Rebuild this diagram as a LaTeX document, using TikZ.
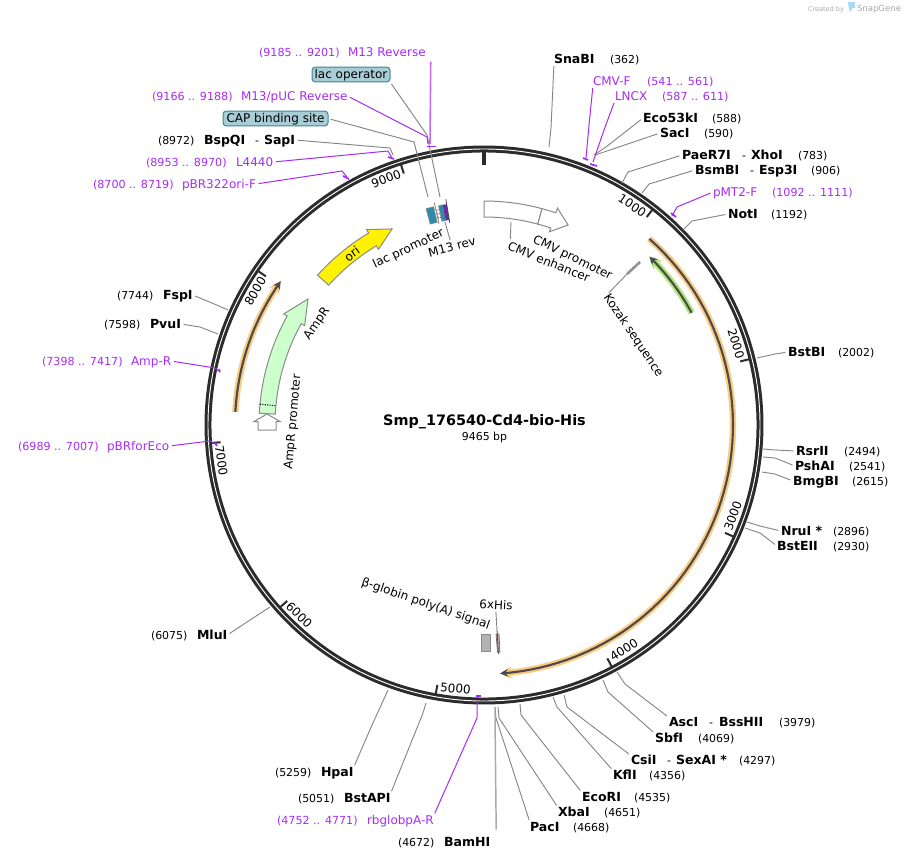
\documentclass[tikz,border=0pt]{standalone}
\usepackage{fontspec}
\setmainfont{DejaVu Sans}
\usepackage{xcolor}
\usetikzlibrary{arrows.meta,calc}
\definecolor{RingDark}{HTML}{2B2B2B}
\definecolor{LineGray}{HTML}{858585}
\definecolor{EdgeGray}{HTML}{8A8A8A}
\definecolor{OligoPurple}{HTML}{A62BF5}
\definecolor{BoxFill}{HTML}{A9CDD6}
\definecolor{BoxEdge}{HTML}{3F8497}
\definecolor{AmpGreen}{HTML}{CCFFCC}
\definecolor{HaloOrange}{HTML}{FCCB82}
\definecolor{HaloGreen}{HTML}{ADE678}
\definecolor{LacTeal}{HTML}{2F8BA8}
\definecolor{LacPurple}{HTML}{6A2CA0}
\definecolor{LogoGray}{HTML}{A8A8A8}
\definecolor{LogoBlue}{HTML}{A5DCF3}

\begin{document}
\begin{tikzpicture}[
      x=0.75pt, y=-0.75pt,
      every node/.style={inner sep=0pt, outer sep=0pt, text height=6.6pt, text depth=0pt},
      site/.style={anchor=west, font=\fontsize{9.4}{11}\selectfont\bfseries},
      sitenum/.style={anchor=west, font=\fontsize{8.2}{10}\selectfont},
      oligo/.style={anchor=west, text=OligoPurple, font=\fontsize{9}{11}\selectfont},
      oligonum/.style={anchor=west, text=OligoPurple, font=\fontsize{8.35}{10}\selectfont},
      flabel/.style={font=\fontsize{9}{11}\selectfont},
      fbox/.style={draw=BoxEdge, fill=BoxFill, rounded corners=2.5pt, line width=0.75pt,
          minimum height=11.2pt, font=\fontsize{9}{11}\selectfont},
      sline/.style={draw=LineGray, line width=0.7pt, shorten <=2pt},
      oline/.style={draw=OligoPurple, line width=0.75pt, shorten <=2pt},
      otick/.style={draw=OligoPurple, line width=1.3pt},
      feat/.style={draw=EdgeGray, line width=0.75pt},
      halo/.style={line width=4.8pt, -{Stealth[length=9pt,width=9pt]}},
      inarc/.style={draw=RingDark!85, line width=1.6pt, -{Stealth[length=6pt,width=6pt]}},
    ]
    \useasboundingbox (0,0) rectangle (905,860);

    \begin{scope}[shift={(484,425)}]
      % backbone
      \coordinate (c) at (0,0);
      \draw[RingDark, line width=5.2pt] (c) circle[radius=276];
      \draw[white, line width=0.7pt] (c) circle[radius=276];
      \draw[RingDark, line width=2.4pt] (-90:273) -- (-90:260);
      \foreach \p/\r in {1000/-34,2000/-73,3000/70,4000/32,5000/-6,6000/-44,7000/-82,8000/60,9000/21}{
        \pgfmathsetmacro\ang{\p/9465*360-90}
        \draw[RingDark, line width=1.5pt] (\ang:273) -- (\ang:264);
        \node[flabel, rotate=\r] (tick\p) at (\ang-4:265) {\p};
      }

      % long features
      \draw[HaloOrange, halo] plot[domain=-48.4:86.3, samples=60] (\x:249);
      \draw[inarc] plot[domain=-48.4:86.3, samples=60] (\x:249);
      \draw[HaloOrange, halo] plot[domain=183:215.3, samples=30] (\x:249);
      \draw[inarc] plot[domain=183:215.3, samples=30] (\x:249);
      \draw[HaloGreen, halo] plot[domain=-28.4:-45.5, samples=20] (\x:236);
      \draw[inarc] plot[domain=-28.4:-45.5, samples=20] (\x:236);

      % AmpR
      \draw[feat, fill=AmpGreen] plot[domain=183:209, samples=30] (\x:225) -- (209:229) -- (215.6:216.5)
        -- (209:205) -- plot[domain=209:183, samples=30] (\x:209) -- cycle;
      \draw[densely dotted, line width=0.8pt] (185.3:225) -- (185.3:209);

      % ori
      \draw[feat, fill=yellow] plot[domain=222:239, samples=20] (\x:224) -- (239:228) -- (244.9:216.5)
        -- (239:205) -- plot[domain=239:222, samples=20] (\x:209) -- cycle;

      % CMV enhancer, CMV promoter
      \draw[feat, fill=white] plot[domain=-90:-75, samples=20] (\x:224) -- (-75:208)
        -- plot[domain=-75:-90, samples=20] (\x:208) -- cycle;
      \draw[feat, fill=white] plot[domain=-75:-71.3, samples=8] (\x:224) -- (-71.3:229) -- (-67.2:217)
        -- (-71.3:204) -- plot[domain=-71.3:-75, samples=8] (\x:208) -- cycle;

      % lac region
      \fill[LacTeal, draw=EdgeGray, line width=0.4pt] plot[domain=255:257, samples=4] (\x:224)
        -- plot[domain=257:255, samples=4] (\x:208) -- cycle;
      \draw[black, densely dotted, line width=0.7pt] (257.5:216) -- (258.5:216);
      \draw[black, densely dotted, line width=0.7pt] (257.5:212) -- (258.5:212);
      \draw[black, densely dotted, line width=0.7pt] (257.5:220) -- (258.5:220);
      \fill[LacTeal, draw=EdgeGray, line width=0.4pt] plot[domain=258.3:259.4, samples=4] (\x:224)
        -- plot[domain=259.4:258.3, samples=4] (\x:208) -- cycle;
      \fill[LacPurple] plot[domain=259.4:260.4, samples=4] (\x:224)
        -- plot[domain=260.4:259.4, samples=4] (\x:208) -- cycle;
      \draw[LineGray, line width=0.6pt] (257.4:206) -- (257.4:228);
      \draw[black!70, line width=0.6pt] (260.4:205) -- (260.4:229);
    \end{scope}

    % AmpR promoter
    \draw[feat, fill=white] (267,414) -- (280,421.5) -- (276,421.5) -- (276,430) -- (258,430)
      -- (258,421.5) -- (254,421.5) -- cycle;

    % poly(A) and 6xHis
    \draw[feat, fill=gray!60] (481,634) rectangle (490,651);
    \draw[black!60, fill=pink!70!gray, line width=0.5pt] (496,634) -- (499,634) -- (500,652) -- (497.5,652) -- cycle;
    \draw[black!70, line width=0.6pt] (497,630) -- (498.5,654);

    % Kozak
    \draw[LineGray, line width=2pt, dash pattern=on 1.2pt off 0.4pt] (640,262) -- (627,274);

    % feature labels
    \node[flabel, rotate=36] (ori) at (352,254) {ori};
    \node[flabel, rotate=55] (ampr) at (316,323) {AmpR};
    \node[flabel, rotate=85] (ampprom) at (292,422) {AmpR promoter};
    \node[flabel, rotate=25] (lacprom) at (408,248) {lac promoter};
    \node[flabel, rotate=15] (m13rev) at (452,247) {M13 rev};
    \node[flabel, rotate=-26] (cmvprom) at (573,257) {CMV promoter};
    \node[flabel, rotate=-22] (cmvenh) at (549,262) {CMV enhancer};
    \node[flabel, rotate=-56] (kozak) at (634,335) {Kozak sequence};
    \node[flabel, rotate=-3] (hislab) at (496,605) {6xHis};
    \node[flabel, rotate=-19] (polya) at (426,603) {β-globin poly(A) signal};
    \coordinate (m13revF) at (445,222);
    \coordinate (cmvenhF) at (511,222);
    \coordinate (kozakF) at (627,274);
    \coordinate (hisF) at (497,630);
    \draw[sline] (m13rev.north) -- (m13revF);
    \draw[sline] (cmvenh.north west) -- (cmvenhF);
    \draw[sline] (kozak.west) -- (kozakF);
    \draw[sline] (hislab.south) -- (hisF);

    % center
    \node[font=\fontsize{10.8}{13}\selectfont\bfseries] (title) at (484.5,421) {Smp\_176540-Cd4-bio-His};
    \node[font=\fontsize{8.2}{10}\selectfont] (size) at (484.5,436) {9465 bp};

    % sites
    \foreach \n/\x/\y/\lab/\u/\v in {
        snabi/554/59/SnaBI/610/362, eco/643/118/Eco53kI/712/588, sac/660/133/SacI/704/590,
        not/728/214/NotI/771/1192, bstb/788/352/BstBI/838/2002, rsr/796/451/RsrII/844/2494,
        psh/795/466/PshAI/849/2541, bmg/793/481/BmgBI/852/2615, nru/781/531/NruI */833/2896,
        bste/777/546/BstEII/833/2930, sbf/655/738/SbfI/698/4069, kfl/613/775/KflI/649/4356,
        ecor/582/797/EcoRI/634/4535, xba/558/812/XbaI/604/4651, pac/530/827/PacI/573/4668,
        bam/444/842/BamHI/398/4672, bstap/344/798/BstAPI/298/5051, hpa/321/772/HpaI/275/5259,
        mlu/197/635/MluI/151/6075, pvu/150/324/PvuI/104/7598, fsp/163/295/FspI/117/7744}{
      \node[site] (\n) at (\x,\y) {\lab};
      \node[sitenum] (\n N) at (\u,\y) {(\v)};
    }
    % sites with two names
    \foreach \n/\x/\y/\lab/\dx/\m/\mx/\mlab/\u/\v in {
        pae/682/155/PaeR7I/742/xho/751/XhoI/798/783, bsm/695/170/BsmBI/750/esp/759/Esp3I/811/906,
        asc/669/722/AscI/709/bss/719/BssHII/779/3979, csi/631/760/CsiI/667/sex/676/SexAI */739/4297,
        bsp/204/140/BspQI/255/sap/264/SapI/158/8972}{
      \node[site] (\n) at (\x,\y) {\lab};
      \node[sitenum] (\n D) at (\dx,\y) {-};
      \node[site] (\m) at (\mx,\y) {\mlab};
      \node[sitenum] (\n N) at (\u,\y) {(\v)};
    }
    % oligos
    \foreach \n/\x/\y/\lab/\u/\v in {
        cmvf/593/81/CMV-F/647/541 .. 561, lncx/615/96/LNCX/662/587 .. 611,
        pmt/713/192/pMT2-F/772/1092 .. 1111, rbg/367/820/rbglobpA-R/277/4752 .. 4771,
        pbrf/107/446/pBRforEco/18/6989 .. 7007, ampr2/131/361/Amp-R/42/7398 .. 7417,
        pbr/182/184/pBR322ori-F/93/8700 .. 8719, lfour/236/162/L4440/146/8953 .. 8970,
        mrev/348/52/M13 Reverse/259/9185 .. 9201}{
      \node[oligo] (\n) at (\x,\y) {\lab};
      \node[oligonum] (\n N) at (\u,\y) {(\v)};
    }
    \node[oligo] (puc) at (241,96) {M13/pUC Reverse};
    \node[oligonum] (pucN) at (152,96) {(9166 .. 9188)};

    % feature boxes
    \node[fbox, minimum width=58.5pt] (lacop) at (351,74.5) {lac operator};
    \node[fbox, minimum width=78.75pt] (capsite) at (275.5,118.5) {CAP binding site};

    % site connectors
    \foreach \n/\s/\kx/\ky/\rx/\ry in {
        snabi/south west/551/128/549/147, eco/west/606/147/594/155, sac/west/610/150/595/155,
        pae/west/628/172/622/183, bsm/west/649/184/642/193, not/west/692/221/683/230,
        bstb/west/775/354/757/358, rsr/west/775/450/763/449, psh/west/775/458/763/457,
        bmg/west/775/474/762/472, nru/west/760/526/747/522, bste/west/760/533/745/528,
        asc/north west/625/684/617/672, sbf/north west/608/692/603/680, csi/north west/567/707/564/695,
        kfl/north west/557/707/553/697, ecor/north west/521/715/520/704, xba/north west/499/718/498/707,
        pac/north west/496/718/495/707, bstap/north east/423/713/426/703, hpa/north east/372/725/388/690,
        mlu/east/250/620/270/607, pvu/east/200/327/218/334, fsp/east/212/303/228/310,
        sap/east/390/148/393/155}{
      \coordinate (\n K) at (\kx,\ky);
      \coordinate (\n R) at (\rx,\ry);
      \draw[sline] (\n.\s) -- (\n K) -- (\n R);
    }
    \coordinate (bamK) at (495,717);
    \coordinate (bamR) at (495,707);
    \draw[sline, line width=1.1pt, draw=LineGray!70] ([xshift=4.5pt,yshift=4pt]bam.north east) -- (bamK) -- (bamR);
    \coordinate (lacopK) at (427,135);
    \coordinate (lacopR) at (440,197);
    \draw[sline] (lacop.south east) -- (lacopK) -- (lacopR);
    \coordinate (capK) at (414,142);
    \coordinate (capR) at (428,197);
    \draw[sline] (capsite.east) -- (capK) -- (capR);

    % oligo connectors
    \foreach \n/\s/\kx/\ky/\rx/\ry in {
        cmvf/south west/589/125/586/158, lncx/south west/604/130/593/162, pmt/west/677/207/672/216,
        rbg/north east/477/718/477/700, pbrf/east/210/441/217/445, ampr2/east/215/368/220/372,
        pbr/east/342/171/347/177, lfour/east/388/151/392/158, puc/east/427/137/428/144}{
      \coordinate (\n K) at (\kx,\ky);
      \coordinate (\n R) at (\rx,\ry);
      \draw[oline] (\n.\s) -- (\n K) -- (\n R);
    }
    \coordinate (mrevR) at (430,144);
    \draw[oline, line width=1.2pt, draw=OligoPurple!70] ([xshift=3.8pt,yshift=-2pt]mrev.south east) -- (mrevR);

    % oligo ticks
    \foreach \a/\b/\c/\d in {
        427/146.5/436/146.5, 388/157/394/159, 343/176/349/179, 671/213/676/217, 583/158/588/160,
        590/164/597/166, 476/696/481/696, 219/369/220/372, 215/443/217/446}
      \draw[otick] (\a,\b) -- (\c,\d);

    % logo
    \node[font=\fontsize{4.9}{6}\selectfont, text=LogoGray] (logoA) at (826,7) {Created by};
    \node[font=\fontsize{6.4}{8}\selectfont, text=LogoGray] (logoB) at (879,7) {SnapGene};
    \fill[LogoBlue] (848,2) -- (855,2) -- (855,8) -- (852,8) -- (851,12) -- (849,10) -- cycle;
  \end{tikzpicture}
\end{document}
